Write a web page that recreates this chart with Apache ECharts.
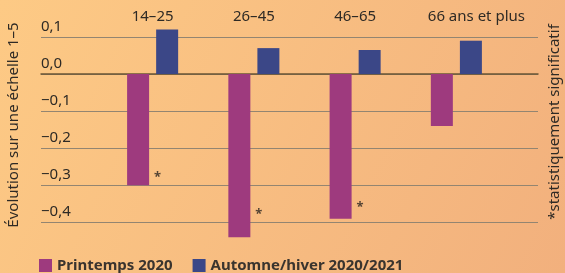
<!DOCTYPE html>
<html>
<head>
<meta charset="utf-8">
<script src="https://cdn.jsdelivr.net/npm/echarts@6/dist/echarts.min.js"></script>
<style>
  html, body { margin: 0; padding: 0; }
  #chart { width: 565px; height: 273px; }
</style>
</head>
<body>
<div id="chart"></div>
<script>
const categories = ['14–25', '26–45', '46–65', '66 ans et plus']
const printemps = [-0.30, -0.44, -0.39, -0.14]
const automne = [0.12, 0.07, 0.065, 0.09]
// where the "*" marks sit (value on the same scale)
const stars = [-0.27, -0.37, -0.35, '-']
const yTicks = { min: -0.4, max: 0.1, step: 0.1 }

const font = 'Noto Sans'
const textColor = '#2e2a25'

const fmt = v => {
  const s = Math.abs(v).toFixed(1).replace('.', ',')
  return (v < -1e-9 ? '−' : '') + s
}

const chart = echarts.init(document.getElementById('chart'))

const option = {
  animation: false,
  backgroundColor: {
    type: 'linear', x: 0, y: 0, x2: 1, y2: 1,
    colorStops: [
      { offset: 0, color: '#fdca85' },
      { offset: 1, color: '#f2b07d' }
    ]
  },
  textStyle: { fontFamily: font },
  legend: {
    left: 39,
    top: 258,
    padding: 0,
    itemWidth: 13,
    itemHeight: 13,
    itemGap: 20,
    icon: 'rect',
    textStyle: { color: '#3a342e', fontSize: 15, fontWeight: 'bold', fontFamily: font },
    data: ['Printemps 2020', 'Automne/hiver 2020/2021']
  },
  grid: [
    { left: 41, right: 27, top: 37, height: 185.3 },
    { left: 102, right: 58, top: 37, height: 222.4 }
  ],
  xAxis: [
    {
      gridIndex: 0,
      type: 'category',
      data: categories,
      axisLine: { show: true, onZero: true, lineStyle: { color: '#6b5535', width: 1.5 } },
      axisTick: { show: false },
      axisLabel: { show: false }
    },
    {
      gridIndex: 1,
      type: 'category',
      position: 'top',
      data: categories.map((c, i) => i === 3
        ? { value: c, textStyle: { padding: [0, 0, 0, 40] } }
        : c),
      axisLine: { show: false },
      axisTick: { show: false },
      axisLabel: { interval: 0, color: textColor, fontSize: 15, margin: 13, fontFamily: font }
    }
  ],
  yAxis: [
    {
      gridIndex: 0,
      type: 'value',
      min: yTicks.min,
      max: yTicks.max,
      interval: yTicks.step,
      axisLine: { show: false },
      axisTick: { show: false },
      axisLabel: {
        inside: true,
        margin: 0,
        verticalAlign: 'bottom',
        padding: [0, 0, 3, 0],
        color: textColor,
        fontSize: 15,
        fontFamily: font,
        formatter: fmt
      },
      splitLine: { lineStyle: { color: '#938571', width: 1.2 } }
    },
    {
      gridIndex: 1,
      type: 'value',
      min: -0.5,
      max: 0.1,
      show: false,
      splitLine: { show: false }
    }
  ],
  series: [
    {
      name: 'Printemps 2020',
      type: 'bar',
      xAxisIndex: 1,
      yAxisIndex: 1,
      clip: false,
      data: printemps,
      barWidth: 22,
      barGap: '32%',
      itemStyle: { color: '#9e3a7e' }
    },
    {
      name: 'Automne/hiver 2020/2021',
      type: 'bar',
      xAxisIndex: 1,
      yAxisIndex: 1,
      clip: false,
      data: automne,
      barWidth: 22,
      itemStyle: { color: '#3b4787' }
    },
    {
      type: 'scatter',
      xAxisIndex: 1,
      yAxisIndex: 1,
      data: stars,
      symbolSize: 0,
      label: {
        show: true,
        position: 'inside',
        offset: [5, 3],
        formatter: '*',
        color: '#2a2520',
        fontSize: 13,
        fontWeight: 'bold'
      }
    }
  ],
  graphic: [
    {
      type: 'text',
      x: 14,
      y: 125,
      rotation: Math.PI / 2,
      style: {
        text: 'Évolution sur une échelle 1–5',
        fill: textColor,
        font: '15px "Noto Sans"',
        textAlign: 'center',
        textVerticalAlign: 'middle'
      }
    },
    {
      type: 'text',
      x: 555,
      y: 122,
      rotation: Math.PI / 2,
      style: {
        text: '*statistiquement significatif',
        fill: textColor,
        font: '15px "Noto Sans"',
        textAlign: 'center',
        textVerticalAlign: 'middle'
      }
    }
  ]
}

chart.setOption(option)
</script>
</body>
</html>
